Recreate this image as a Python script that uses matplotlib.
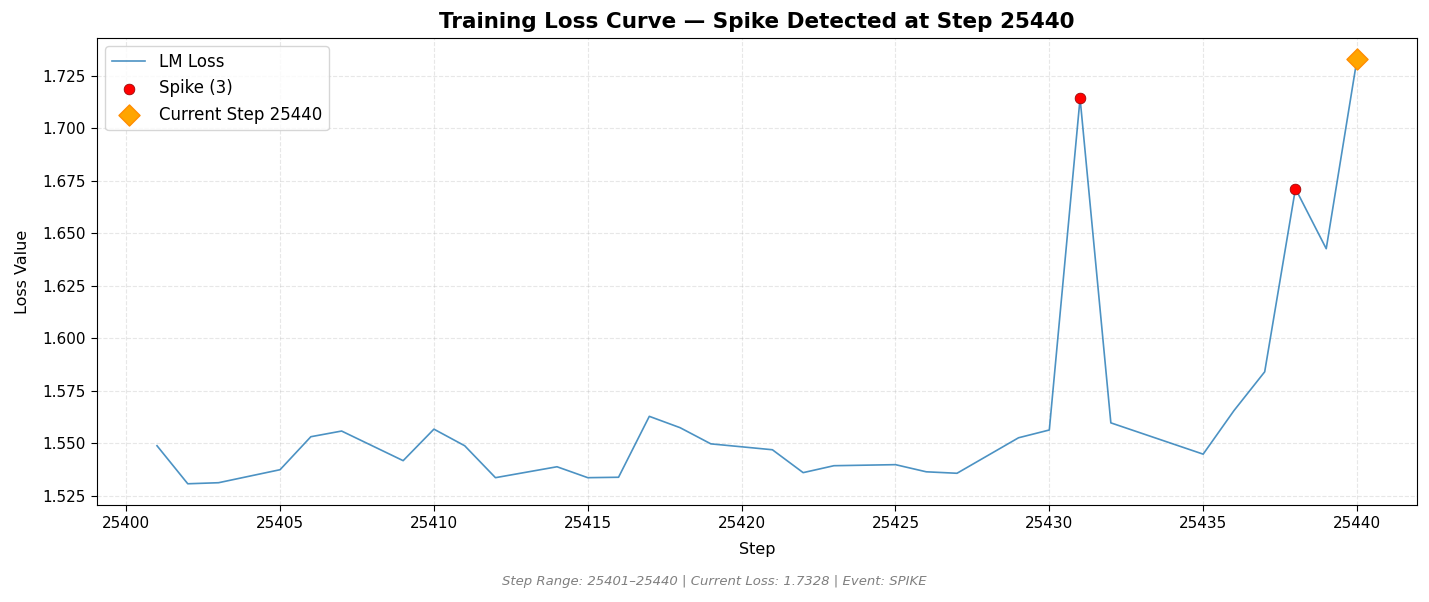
import numpy as np
import matplotlib
matplotlib.use("Agg")
import matplotlib.pyplot as plt

# loss values (some steps are absent)
steps = [25401, 25402, 25403, 25405, 25406, 25407, 25409, 25410, 25411, 25412,
         25414, 25415, 25416, 25417, 25418, 25419, 25421, 25422, 25423, 25425,
         25426, 25427, 25429, 25430, 25431, 25432, 25435, 25436, 25437, 25438,
         25439, 25440]
loss = [1.5488, 1.5307, 1.5312, 1.5374, 1.5531, 1.5558, 1.5417, 1.5567, 1.5488, 1.5336,
        1.5388, 1.5336, 1.5338, 1.5628, 1.5574, 1.5497, 1.5469, 1.5360, 1.5393, 1.5398,
        1.5364, 1.5357, 1.5526, 1.5563, 1.7142, 1.5597, 1.5448, 1.5655, 1.5840, 1.6712,
        1.6426, 1.7328]

spike_steps = [25431, 25438, 25440]
current_step = 25440
current_loss = 1.7328

spike_loss = [loss[steps.index(s)] for s in spike_steps]

fig = plt.figure(figsize=(14.29, 6.02), dpi=100)
ax = fig.add_axes([97 / 1429, 1 - 505 / 602, 1320 / 1429, 467 / 602])

ax.plot(steps, loss, color="#1f77b4", alpha=0.8, linewidth=1.2, label="LM Loss")
ax.scatter(spike_steps, spike_loss, color="red", edgecolor="darkred", linewidth=0.5,
           s=60, zorder=5, label=f"Spike ({len(spike_steps)})")
ax.scatter([current_step], [current_loss], color="orange", edgecolor="darkorange",
           marker="D", s=115, zorder=6, label=f"Current Step {current_step}")

ax.set_xlabel("Step", fontsize=11.5, labelpad=8)
ax.set_ylabel("Loss Value", fontsize=11.5, labelpad=9)
ax.set_title(f"Training Loss Curve — Spike Detected at Step {current_step}",
             fontsize=15.5, fontweight="bold", pad=7)
ax.grid(True, linestyle="--", alpha=0.3)
ax.tick_params(labelsize=11, length=4, pad=4)
ax.yaxis.set_major_formatter(matplotlib.ticker.FormatStrFormatter("%.3f"))
ax.legend(loc="upper left", fontsize=12)

fig.text(0.5, 1 - 582 / 602,
         f"Step Range: {steps[0]}–{steps[-1]} | Current Loss: {current_loss:.4f} | Event: SPIKE",
         ha="center", va="center", fontsize=9.5, style="italic", color="gray")

fig.savefig("out.png", dpi=100)
